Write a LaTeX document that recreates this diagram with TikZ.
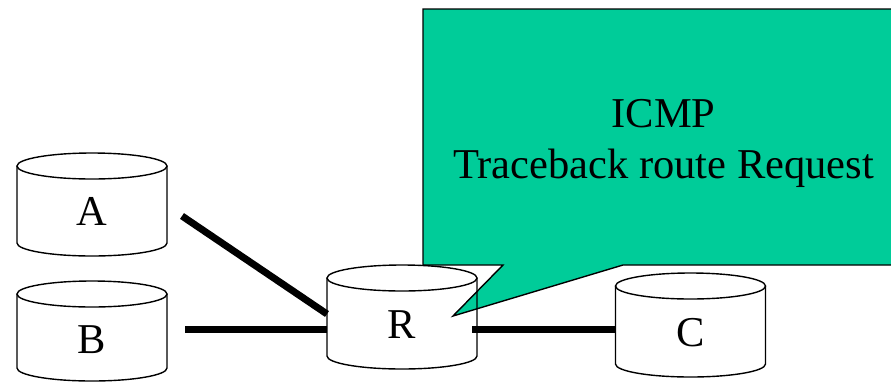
\documentclass[tikz,border=0pt]{standalone}
\usepackage{fontspec}
\setmainfont{Liberation Serif}
\definecolor{calloutgreen}{HTML}{00CC99}
\tikzset{
  cylline/.style={draw=black,line width=1.4pt},
  link/.style={draw=black,line width=7pt},
  callout/.style={fill=calloutgreen,draw=black,line width=1.4pt,line join=miter},
  lbl/.style={font=\fontsize{42.5}{50}\selectfont,inner sep=0pt,anchor=base},
}
% #1 cx, #2 top ellipse centre y, #3 bottom centre y
\newcommand{\cylfill}[3]{%
  \fill[white] (#1-75,#2) -- (#1-75,#3) arc[start angle=180,end angle=360,x radius=75pt,y radius=13pt] -- (#1+75,#2) -- cycle;
  \fill[white] (#1,#2) ellipse[x radius=75pt,y radius=13pt];
}
\newcommand{\cyldraw}[3]{%
  \draw[cylline] (#1,#2) ellipse[x radius=75pt,y radius=13pt];
  \draw[cylline] (#1-75,#2) -- (#1-75,#3) arc[start angle=180,end angle=360,x radius=75pt,y radius=13pt] -- (#1+75,#2);
}
\begin{document}
\begin{tikzpicture}[x=1pt,y=-1pt]
\useasboundingbox (0,0) rectangle (891,381);
\clip (0,0) rectangle (891,381);
% cylinder fills
\cylfill{92}{166}{243}
\cylfill{92}{294}{368}
\cylfill{402}{278}{356}
\cylfill{690.5}{286}{364}
% callout
\coordinate (tip) at (453,316);
\draw[callout] (423,9) -- (900,9) -- (900,265) -- (623,265) -- (tip) -- (503,265) -- (423,265) -- cycle;
\node[lbl] (t1) at (663.5,127) {ICMP};
\node[lbl] (t2) at (663.5,178) {Traceback route Request};
% cylinder outlines
\cyldraw{92}{166}{243}
\cyldraw{92}{294}{368}
\cyldraw{402}{278}{356}
\cyldraw{690.5}{286}{364}
% labels
\node[lbl] (A) at (92,225) {A};
\node[lbl] (B) at (92,353) {B};
\node[lbl] (R) at (402,338) {R};
\node[lbl] (C) at (690.5,346) {C};
% connector ends
\coordinate (a1) at (182,216);
\coordinate (r1) at (327,314);
\coordinate (b1) at (185,329);
\coordinate (r2) at (327,329);
\coordinate (r3) at (472,329);
\coordinate (c1) at (615,329);
\draw[link] (a1) -- (r1);
\draw[link] (b1) -- (r2);
\draw[link] (r3) -- (c1);
\end{tikzpicture}
\end{document}
